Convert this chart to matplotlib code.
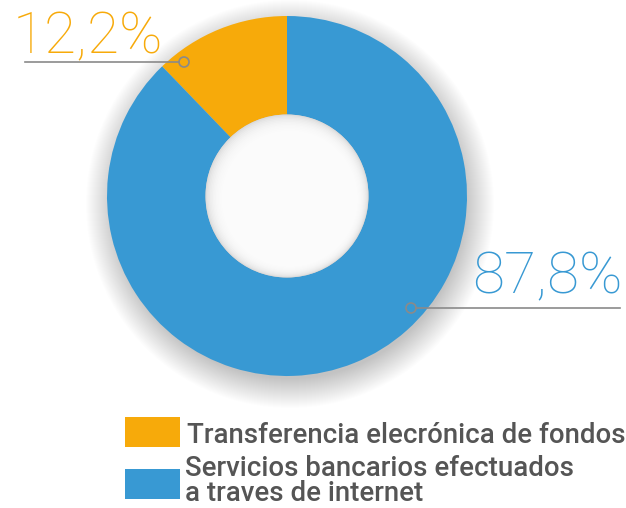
import matplotlib.pyplot as plt
from matplotlib.patches import Circle

# datos del gráfico
etiquetas = ['Transferencia elecrónica de fondos',
             'Servicios bancarios efectuados\na traves de internet']
valores = [12.2, 87.8]
textos = ['12,2%', '87,8%']
colores = ['#F7AA0A', '#3899D3']

W, H = 626, 508
fig = plt.figure(figsize=(W / 100, H / 100), dpi=100)
ax = fig.add_axes([0, 0, 1, 1])

cx, cy, R, r = 287, H - 196, 180, 81.5

# sombra suave alrededor del anillo
for i in range(30):
    ax.add_patch(Circle((cx + 3, cy - 8), R + 24 - i, color='#000000',
                        alpha=0.008, lw=0, zorder=1))

ax.pie(valores, colors=colores, startangle=90, counterclock=True,
       center=(cx, cy), radius=R, frame=True,
       wedgeprops=dict(width=R - r, linewidth=0), normalize=True)
for p in ax.patches[-2:]:
    p.set_zorder(2)
ax.set_xlim(0, W)
ax.set_ylim(0, H)
ax.set_aspect('equal')
ax.axis('off')

# sombra interior del agujero
hueco = Circle((cx, cy), r, color='#d4d4d4', lw=0, zorder=3)
ax.add_patch(hueco)
for i in range(24):
    c = Circle((cx + 0.25 * i, cy - 0.25 * i), r - 1.2 * i, color='white',
               alpha=0.22, lw=0, zorder=4)
    ax.add_patch(c)
    c.set_clip_path(hueco)

# etiquetas con línea guía
gris = '#8A8A8A'
ax.plot([25, 179], [H - 62, H - 62], color=gris, lw=1.2, zorder=5)
ax.add_patch(Circle((184, H - 62), 5, fill=False, ec=gris, lw=1.2, zorder=6))
ax.text(13, H - 53, textos[0], color=colores[0], fontsize=42,
        family='Roboto', fontweight='light', va='baseline', ha='left')

ax.plot([416, 620], [H - 308, H - 308], color=gris, lw=1.2, zorder=5)
ax.add_patch(Circle((411, H - 308), 5, fill=False, ec=gris, lw=1.2, zorder=6))
ax.text(623, H - 293, textos[1], color=colores[1], fontsize=42,
        family='Roboto', fontweight='light', va='baseline', ha='right')

# leyenda
txt = '#555555'
ax.add_patch(plt.Rectangle((125, H - 447), 55, 30, color=colores[0], lw=0))
ax.text(187, H - 443, etiquetas[0], color=txt, fontsize=19.9,
        family='Roboto', fontweight='medium', va='baseline', ha='left')
ax.add_patch(plt.Rectangle((125, H - 499), 55, 30, color=colores[1], lw=0))
ax.text(185, H - 501, etiquetas[1], color=txt, fontsize=19.9,
        family='Roboto', fontweight='medium', va='baseline', ha='left',
        linespacing=0.9)

fig.savefig('out.png', dpi=100)
